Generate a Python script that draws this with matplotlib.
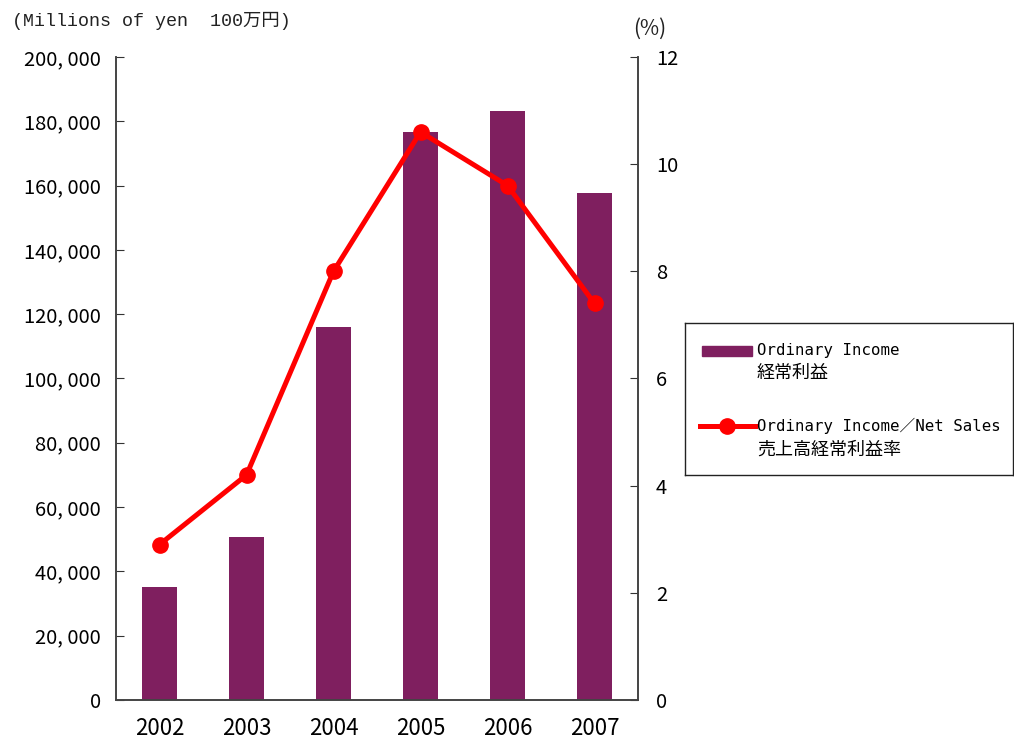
import numpy as np
import matplotlib
matplotlib.use("Agg")
import matplotlib.pyplot as plt
from matplotlib.ticker import FuncFormatter
from matplotlib.patches import Rectangle
from matplotlib.lines import Line2D

years = ["2002", "2003", "2004", "2005", "2006", "2007"]
ordinary_income = [35100, 50800, 116000, 176700, 183200, 157700]   # 100万円
income_ratio = [2.9, 4.2, 8.0, 10.6, 9.6, 7.4]                     # %
legend_labels = [("Ordinary Income", "経常利益"),
                 ("Ordinary Income／Net Sales", "売上高経常利益率")]

BAR_COLOR = "#7F1F5F"
LINE_COLOR = "#FF0000"
SANS = ["Noto Sans CJK JP", "DejaVu Sans"]
MONO = ["DejaVu Sans Mono", "Noto Sans CJK JP"]
SERIF_MONO = ["Liberation Mono", "Noto Sans CJK JP"]

fig = plt.figure(figsize=(10.14, 7.43), dpi=100)
ax = fig.add_axes([0.1144, 0.0579, 0.5148, 0.8654])
ax2 = ax.twinx()

x = np.arange(len(years))
ax.bar(x, ordinary_income, width=0.4, color=BAR_COLOR, zorder=2)
ax2.plot(x, income_ratio, color=LINE_COLOR, linewidth=3.6,
         marker="o", markersize=11, zorder=3)

ax.set_xlim(-0.5, len(years) - 0.5)
ax.set_ylim(0, 200000)
ax.set_yticks(np.arange(0, 200001, 20000))
ax.yaxis.set_major_formatter(FuncFormatter(lambda v, p: f"{int(v):,}".replace(",", ", ")))
ax2.set_ylim(0, 12)
ax2.set_yticks(np.arange(0, 13, 2))

ax.set_xticks(x)
ax.set_xticklabels(years, family=SANS, fontsize=16)
ax.tick_params(axis="x", length=0, pad=12)
ax.tick_params(axis="y", direction="in", length=6, pad=11, labelsize=14.5, color="#333333")
ax2.tick_params(axis="y", direction="in", length=6, pad=13, labelsize=14.5, color="#333333")
for lbl in ax.get_yticklabels() + ax2.get_yticklabels():
    lbl.set_family(SANS)

for a in (ax, ax2):
    a.spines["top"].set_visible(False)
    for s in ("left", "right", "bottom"):
        a.spines[s].set_color("#444444")
        a.spines[s].set_linewidth(1.2)

fig.text(0.012, 0.972, "(Millions of yen  100万円)", family=SERIF_MONO,
         fontsize=13.2, ha="left", va="center", color="#222222")
fig.text(0.641, 0.961, "(%)", family=SANS, fontsize=15, ha="center", va="center",
         color="#222222")

# legend box drawn by hand so the keys line up with the first text line
lax = fig.add_axes([0.6755, 0.3607, 0.3235, 0.2046])
lax.set_xlim(0, 1)
lax.set_ylim(0, 1)
lax.set_xticks([])
lax.set_yticks([])
for s in lax.spines.values():
    s.set_color("#222222")
    s.set_linewidth(1.0)

lax.add_patch(Rectangle((0.052, 0.783), 0.152, 0.066, color=BAR_COLOR))
lax.add_line(Line2D([0.046, 0.213], [0.322, 0.322], color=LINE_COLOR, linewidth=3.6))
lax.plot([0.128], [0.322], marker="o", markersize=11, color=LINE_COLOR)

rows = [(0.816, 0.671), (0.322, 0.167)]
for (l1, l2), (y1, y2) in zip(legend_labels, rows):
    lax.text(0.219, y1, l1, family=MONO, fontsize=11.3, va="center", ha="left")
    lax.text(0.219, y2, l2, family=MONO, fontsize=13, va="center", ha="left")

fig.savefig("out.png", dpi=100)
